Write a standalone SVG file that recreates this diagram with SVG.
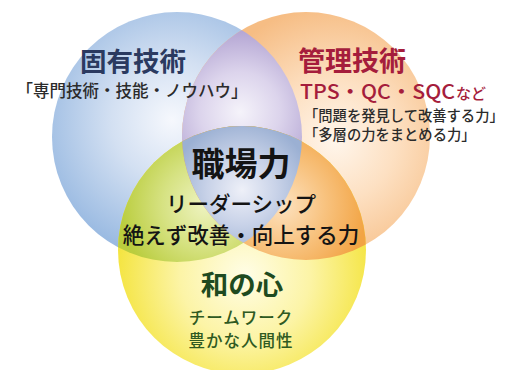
<svg xmlns="http://www.w3.org/2000/svg" width="506" height="370" viewBox="0 0 506 370">
<style>
text{font-family:"Noto Sans CJK JP","Noto Sans",sans-serif;text-anchor:middle;font-weight:500}
.h{font-weight:bold}
.sub{fill:#2b2b2b}
.st{text-anchor:start}
</style>
<defs>
<radialGradient id="gBlue" gradientUnits="userSpaceOnUse" cx="172" cy="120" r="135">
<stop offset="0" stop-color="#f6f8fd"/><stop offset="0.45" stop-color="#d3e0f2"/><stop offset="1" stop-color="#9bbbe2"/></radialGradient>
<radialGradient id="gOrange" gradientUnits="userSpaceOnUse" cx="335" cy="140" r="135">
<stop offset="0" stop-color="#fff6ec"/><stop offset="0.45" stop-color="#fde0c2"/><stop offset="1" stop-color="#f6bd84"/></radialGradient>
<radialGradient id="gYellow" gradientUnits="userSpaceOnUse" cx="245" cy="275" r="130">
<stop offset="0" stop-color="#fffde6"/><stop offset="0.5" stop-color="#fcf4a6"/><stop offset="1" stop-color="#f4e43e"/></radialGradient>
<radialGradient id="gPurple" gradientUnits="userSpaceOnUse" cx="240" cy="112" r="80">
<stop offset="0" stop-color="#f5f3fa"/><stop offset="0.5" stop-color="#dcd4ec"/><stop offset="1" stop-color="#b5a7d4"/></radialGradient>
<radialGradient id="gGreen" gradientUnits="userSpaceOnUse" cx="205" cy="205" r="85">
<stop offset="0" stop-color="#eef3c0"/><stop offset="0.5" stop-color="#d6e282"/><stop offset="1" stop-color="#bacd3e"/></radialGradient>
<radialGradient id="gOrLens" gradientUnits="userSpaceOnUse" cx="282" cy="205" r="85">
<stop offset="0" stop-color="#fde2c0"/><stop offset="0.5" stop-color="#f8c380"/><stop offset="1" stop-color="#f2a444"/></radialGradient>
<radialGradient id="gCenter" gradientUnits="userSpaceOnUse" cx="242" cy="190" r="70">
<stop offset="0" stop-color="#eef0f8"/><stop offset="0.5" stop-color="#c8d2e8"/><stop offset="1" stop-color="#9bb0d3"/></radialGradient>
<clipPath id="cBlue"><circle cx="177" cy="137" r="125"/></clipPath>
<clipPath id="cOrange"><circle cx="306" cy="136" r="124"/></clipPath>
</defs>
<rect width="506" height="370" fill="#ffffff"/>
<g id="circles">
<circle id="blue" cx="177" cy="137" r="125" fill="url(#gBlue)"/>
<circle id="orange" cx="306" cy="136" r="124" fill="url(#gOrange)"/>
<circle id="yellow" cx="242" cy="250" r="124" fill="url(#gYellow)"/>
<g id="lens-purple" clip-path="url(#cBlue)"><circle cx="306" cy="136" r="124" fill="url(#gPurple)"/></g>
<g id="lens-green" clip-path="url(#cBlue)"><circle cx="242" cy="250" r="124" fill="url(#gGreen)"/></g>
<g id="lens-orange" clip-path="url(#cOrange)"><circle cx="242" cy="250" r="124" fill="url(#gOrLens)"/></g>
<g id="center" clip-path="url(#cBlue)"><g clip-path="url(#cOrange)"><circle cx="242" cy="250" r="124" fill="url(#gCenter)"/></g></g>
</g>
<g id="node-koyu">
<text class="h" x="133" y="71" font-size="26.5" fill="#2b3a60">固有技術</text>
<text class="sub" x="132" y="97" font-size="16.5">「専門技術・技能・ノウハウ」</text>
</g>
<g id="node-kanri">
<text class="h" x="352" y="71" font-size="27" fill="#a51d3c">管理技術</text>
<text class="st" x="300" y="99" font-size="20" fill="#a51d3c" textLength="155" lengthAdjust="spacingAndGlyphs">TPS・QC・SQC</text>
<text class="st" x="456" y="99" font-size="15" fill="#a51d3c">など</text>
<text class="sub st" x="304" y="121" font-size="14.3">「問題を発見して改善する力」</text>
<text class="sub st" x="304" y="140" font-size="14.3">「多層の力をまとめる力」</text>
</g>
<g id="node-center">
<text class="h" x="241" y="176" font-size="33" fill="#141414">職場力</text>
<text x="241" y="212" font-size="21.5" fill="#141414">リーダーシップ</text>
<text x="241" y="243" font-size="21.5" fill="#141414">絶えず改善・向上する力</text>
</g>
<g id="node-wa">
<text class="h" x="242" y="295" font-size="27.5" fill="#1e4a20">和の心</text>
<text x="241" y="324" font-size="16.5" fill="#2f5a22" letter-spacing="1">チームワーク</text>
<text x="241" y="347" font-size="16.5" fill="#2f5a22" letter-spacing="1">豊かな人間性</text>
</g>
</svg>
